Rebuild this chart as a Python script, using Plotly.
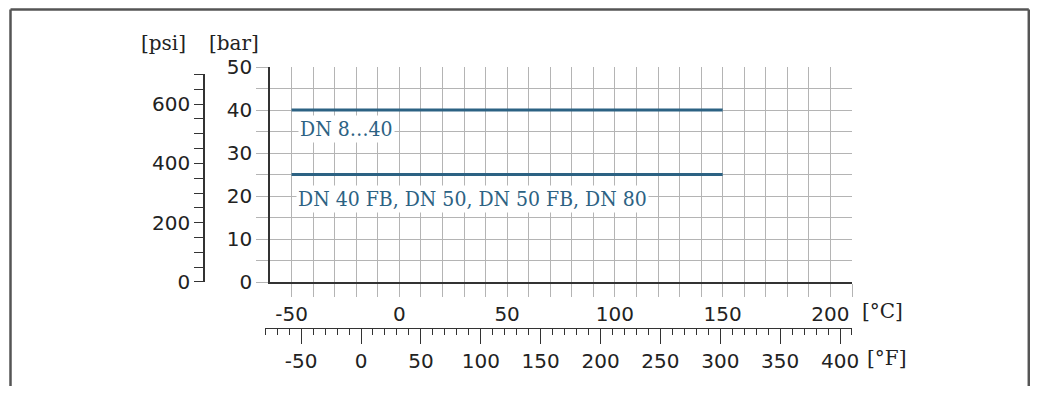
import plotly.graph_objects as go

# pressure-temperature rating, bar vs degC
T_C = [-50, 150]
P_DN8_40 = [40, 40]
P_DN40FB_80 = [25, 25]
LABELS = ["DN 8…40", "DN 40 FB, DN 50, DN 50 FB, DN 80"]
LABEL_POS = [(-47, 35.6), (-48, 19.3)]

BAR_TICKS = [0, 10, 20, 30, 40, 50]
PSI_TICKS = [0, 200, 400, 600]
C_TICKS = [-50, 0, 50, 100, 150, 200]
F_TICKS = [-50, 0, 50, 100, 150, 200, 250, 300, 350, 400]
C_RANGE = [-60, 210]
BAR_RANGE = [0, 50]
F_RANGE = [-80, 410]
PSI_MAX = 700
PSI_PER_BAR = 14.5038

# page body has an 8px margin, so the figure sits at (8, 8) and fits inside the body
OFF = 8
W, H = 1038 - 2 * OFF, 394 - 2 * OFF
LINE = "#2c6283"; GRID = "#b4b4b4"; AX = "#333333"
NUM = dict(family="DejaVu Sans", size=20, color="#222")
SER = dict(family="DejaVu Serif", size=20, color="#222")


def fx(px):  # screen px -> paper x
    return (px - OFF) / W


def fy(py):  # screen px -> paper y
    return (H - (py - OFF)) / H


px0, px1, py0, py1 = 270, 852, 282, 67
xd = [fx(px0), fx(px1)]
yd = [fy(py0), fy(py1)]
pxc = (px1 - px0) / (C_RANGE[1] - C_RANGE[0])
f_left = px0 + ((F_RANGE[0] - 32) * 5 / 9 - C_RANGE[0]) * pxc
psi_top = yd[0] + (yd[1] - yd[0]) * PSI_MAX / (BAR_RANGE[1] * PSI_PER_BAR)

fig = go.Figure()
for p in (P_DN8_40, P_DN40FB_80):
    fig.add_trace(go.Scatter(x=T_C, y=p, mode="lines", line=dict(color=LINE, width=3),
                             hoverinfo="skip", showlegend=False))
# helper trace so the psi and degF axes get drawn
fig.add_trace(go.Scatter(x=[t * 9 / 5 + 32 for t in T_C], y=[v * PSI_PER_BAR for v in P_DN8_40],
                         xaxis="x2", yaxis="y2", mode="lines", opacity=0,
                         hoverinfo="skip", showlegend=False))

for txt, (x, y) in zip(LABELS, LABEL_POS):
    fig.add_annotation(x=x, y=y, text=txt, showarrow=False, xanchor="left", yanchor="middle",
                       bgcolor="white", borderpad=1,
                       font=dict(family="DejaVu Serif Condensed, DejaVu Serif", size=21, color=LINE))

bar_vals = list(range(0, 51, 5))
c_vals = list(range(-50, 211, 10))
psi_vals = list(range(0, PSI_MAX + 1, 50))
fig.update_layout(
    width=W, height=H, margin=dict(l=0, r=0, t=0, b=0, autoexpand=False),
    paper_bgcolor="white", plot_bgcolor="rgba(0,0,0,0)", showlegend=False,
    xaxis=dict(domain=xd, range=C_RANGE, tickmode="array", tickvals=c_vals,
               ticktext=[str(v) if v in C_TICKS else "" for v in c_vals],
               showgrid=True, gridcolor=GRID, gridwidth=1, zeroline=False,
               showline=True, linecolor=AX, linewidth=1.5, automargin=False,
               ticks="outside", ticklen=13, tickcolor=GRID, tickwidth=1, tickfont=NUM),
    yaxis=dict(domain=yd, range=BAR_RANGE, tickmode="array", tickvals=bar_vals,
               ticktext=[str(v) if v in BAR_TICKS else "" for v in bar_vals],
               showgrid=True, gridcolor=GRID, gridwidth=1, zeroline=False,
               showline=True, linecolor=AX, linewidth=1.5, automargin=False,
               ticks="outside", ticklen=12, tickcolor=GRID, tickwidth=1, tickfont=NUM),
    yaxis2=dict(domain=[yd[0], psi_top], range=[0, PSI_MAX], anchor="free", position=fx(204),
                side="left", tickmode="array", tickvals=psi_vals,
                ticktext=[str(v) if v in PSI_TICKS else "" for v in psi_vals],
                showgrid=False, zeroline=False, showline=True, linecolor=AX, linewidth=1.5,
                automargin=False,
                ticks="outside", ticklen=9, tickcolor=AX, tickwidth=1.2, tickfont=NUM),
    xaxis2=dict(domain=[fx(f_left), xd[1]], range=F_RANGE, anchor="free", position=fy(328),
                side="bottom", tickmode="array", tickvals=F_TICKS, ticktext=[str(v) for v in F_TICKS],
                showgrid=False, zeroline=False, showline=True, linecolor=AX, linewidth=1.2,
                automargin=False,
                ticks="outside", ticklen=15, tickcolor=AX, tickwidth=1.2, tickfont=NUM,
                minor=dict(dtick=10, tick0=0, ticks="outside", ticklen=6, tickcolor=AX, tickwidth=1.2)),
)

# unit labels
for txt, x, y, anc in [("[psi]", 188, 43, "right"), ("[bar]", 207, 43, "left"),
                       ("[°C]", 860, 311, "left"), ("[°F]", 865, 358, "left")]:
    fig.add_annotation(x=fx(x), y=fy(y), xref="paper", yref="paper", text=txt,
                       showarrow=False, xanchor=anc, yanchor="middle", font=SER)

# outer frame, open at the bottom
ft = fy(9.5)
fr = fx(1028.8)
for x0, y0, x1, y1 in [(fx(10.5), -0.05, fx(10.5), ft), (fx(10.5), ft, fr, ft),
                       (fr, ft, fr, -0.05)]:
    fig.add_shape(type="line", xref="paper", yref="paper", x0=x0, y0=y0, x1=x1, y1=y1,
                  line=dict(color="#555", width=2.5))

fig.write_html("out.html")
